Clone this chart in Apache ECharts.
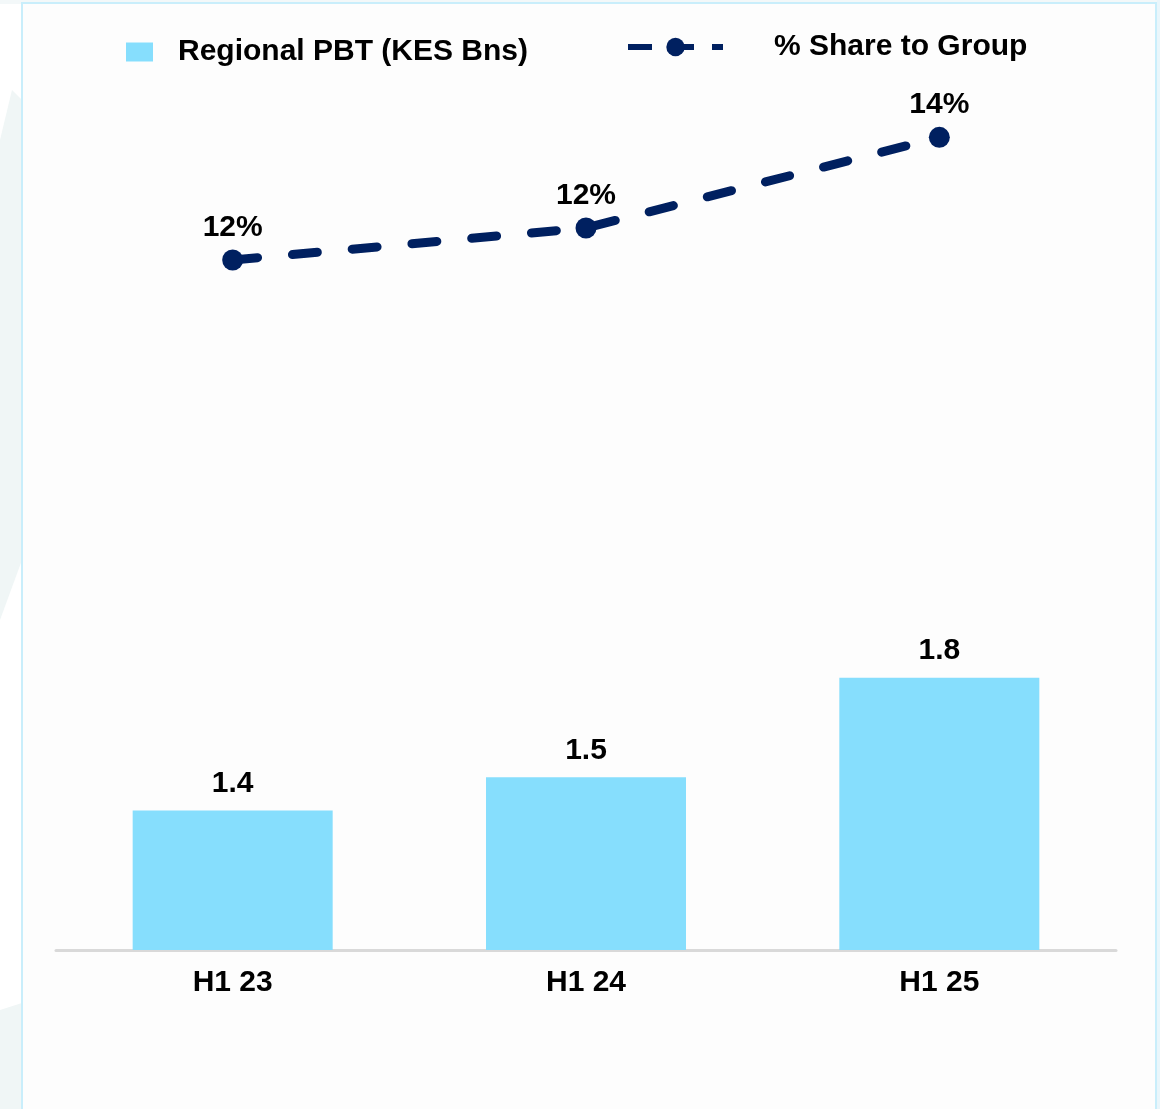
<!DOCTYPE html>
<html>
<head>
<meta charset="utf-8">
<title>Regional PBT and % Share to Group</title>
<script src="https://cdn.jsdelivr.net/npm/echarts@6/dist/echarts.min.js"></script>
<style>
  html, body { margin: 0; padding: 0; background: #ffffff; }
  #chart { width: 1160px; height: 1109px; }
</style>
</head>
<body>
<div id="chart"></div>
<script>
// Half-year periods on the category axis
const periods = ['H1 23', 'H1 24', 'H1 25'];
// Regional profit before tax, KES billions
const regionalPBT = [1.4, 1.5, 1.8];
// Regional share of group PBT, percent
const shareToGroup = [11.6, 12.2, 13.9];

const NAVY = '#002060';
const SKY = '#86DEFD';
const FONT = '"Liberation Sans", Arial, sans-serif';

const chart = echarts.init(document.getElementById('chart'), null, { renderer: 'canvas' });

chart.setOption({
  backgroundColor: '#ffffff',
  animation: false,
  textStyle: { fontFamily: FONT },
  graphic: [
    // soft backdrop outside the framed panel
    { type: 'rect', z: -10, shape: { x: 0, y: 0, width: 1160, height: 4 }, style: { fill: '#F3F8F9' } },
    { type: 'polygon', z: -10, shape: { points: [[0, 140], [12, 90], [22, 100], [22, 560], [0, 620]] }, style: { fill: '#F0F6F6' } },
    { type: 'polygon', z: -10, shape: { points: [[0, 1010], [22, 1003], [22, 1109], [0, 1109]] }, style: { fill: '#F0F6F6' } },
    { type: 'rect', z: -10, shape: { x: 1157, y: 0, width: 3, height: 1109 }, style: { fill: '#EAF6FB' } },
    // panel frame
    { type: 'rect', z: -5, shape: { x: 22, y: 3, width: 1134, height: 1120 },
      style: { fill: '#fdfdfd', stroke: '#C9EEFB', lineWidth: 2 } }
  ],
  legend: [
    {
      data: [{ name: 'Regional PBT (KES Bns)', icon: 'rect' }],
      left: 121, top: 32,
      itemWidth: 27, itemHeight: 19,
      textStyle: { fontSize: 30, fontWeight: 'bold', color: '#000', padding: [0, 0, 0, 20] }
    },
    {
      data: ['% Share to Group'],
      left: 620, top: 27,
      itemWidth: 95, itemHeight: 23,
      lineStyle: { width: 6, type: [24, 18], cap: 'butt' },
      textStyle: { fontSize: 30, fontWeight: 'bold', color: '#000', padding: [0, 0, 0, 46] }
    }
  ],
  grid: { left: 56, right: 44, top: 100, bottom: 159, containLabel: false },
  xAxis: {
    type: 'category',
    data: periods,
    axisLine: { onZero: false, lineStyle: { color: '#D9D9D9', width: 3 } },
    axisTick: { show: false },
    axisLabel: { fontSize: 30, fontWeight: 'bold', color: '#000', margin: 18 }
  },
  yAxis: [
    { type: 'value', min: 0.98, max: 3.54, show: false, splitLine: { show: false } },
    { type: 'value', min: -1.34, max: 14.6, show: false, splitLine: { show: false } }
  ],
  series: [
    {
      name: 'Regional PBT (KES Bns)',
      type: 'bar',
      data: regionalPBT,
      barWidth: 200,
      itemStyle: { color: SKY },
      label: {
        show: true, position: 'top', distance: 12,
        fontSize: 30, fontWeight: 'bold', color: '#000',
        formatter: p => p.value.toFixed(1)
      }
    },
    {
      name: '% Share to Group',
      type: 'line',
      yAxisIndex: 1,
      data: shareToGroup,
      symbol: 'circle',
      symbolSize: 21,
      itemStyle: { color: NAVY },
      lineStyle: { color: NAVY, width: 9, type: [25, 35], cap: 'round' },
      label: {
        show: true, position: 'top', distance: 7,
        fontSize: 30, fontWeight: 'bold', color: '#000',
        formatter: p => Math.round(p.value) + '%'
      },
      z: 5
    }
  ]
});
</script>
</body>
</html>
